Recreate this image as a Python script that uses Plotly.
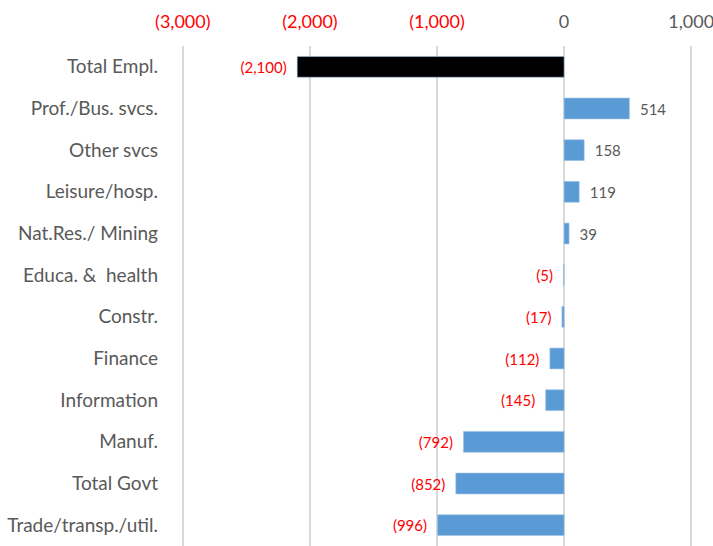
import plotly.graph_objects as go

# ─── Data ─────────────────────────────────────────────────────────────────────
sectors = ["Total Empl.", "Prof./Bus. svcs.", "Other svcs", "Leisure/hosp.",
           "Nat.Res./ Mining", "Educa.\u00a0& \u00a0health", "Constr.", "Finance",
           "Information", "Manuf.", "Total Govt", "Trade/transp./util."]
changes = [-2100, 514, 158, 119, 39, -5, -17, -112, -145, -792, -852, -996]

tick_vals = [-3000, -2000, -1000, 0, 1000]
tick_text = ["(3,000)", "(2,000)", "(1,000)", "0", "1,000"]

RED = "#FF0000"
GREY = "#595959"
BLUE = "#5B9BD5"
PAD = "\u2002"


def fmt(v):
    return f"({abs(v):,}){PAD}" if v < 0 else f"{PAD}{v:,}"


bar_colors = ["#000000"] + [BLUE] * (len(sectors) - 1)
label_colors = [RED if v < 0 else GREY for v in changes]
tick_labels = [f"<span style='color:{RED}'>{t}</span>" if v < 0 else t
               for v, t in zip(tick_vals, tick_text)]

fig = go.Figure(go.Bar(
    x=changes, y=sectors, orientation="h",
    marker=dict(color=bar_colors, line=dict(color="#9DC3E6", width=0.6)),
    text=[fmt(v) for v in changes],
    textposition="outside",
    textfont=dict(color=label_colors, size=15, family="Lato"),
    cliponaxis=False,
    width=0.5,
))

# a bit of slack on both ends so the edge gridlines are kept
fig.update_layout(
    width=713, height=546,
    paper_bgcolor="white", plot_bgcolor="white",
    margin=dict(l=179, r=18, t=46, b=0),
    showlegend=False,
    font=dict(family="Lato", color=GREY, size=19),
    xaxis=dict(
        side="top", range=[-3030, 1030], automargin=False,
        tickvals=tick_vals, ticktext=tick_labels,
        showgrid=True, gridcolor="#D9D9D9", gridwidth=2,
        zeroline=False, showline=False,
        ticklabelstandoff=13, ticklabeloverflow="allow",
        tickfont=dict(size=18, color=GREY),
    ),
    yaxis=dict(
        autorange="reversed", showgrid=False, showline=False,
        automargin=False, ticklabelstandoff=20,
        tickfont=dict(size=19, color=GREY),
    ),
)

fig.write_html("out.html", config={"displayModeBar": False},
               post_script="document.body.style.margin='0';")
